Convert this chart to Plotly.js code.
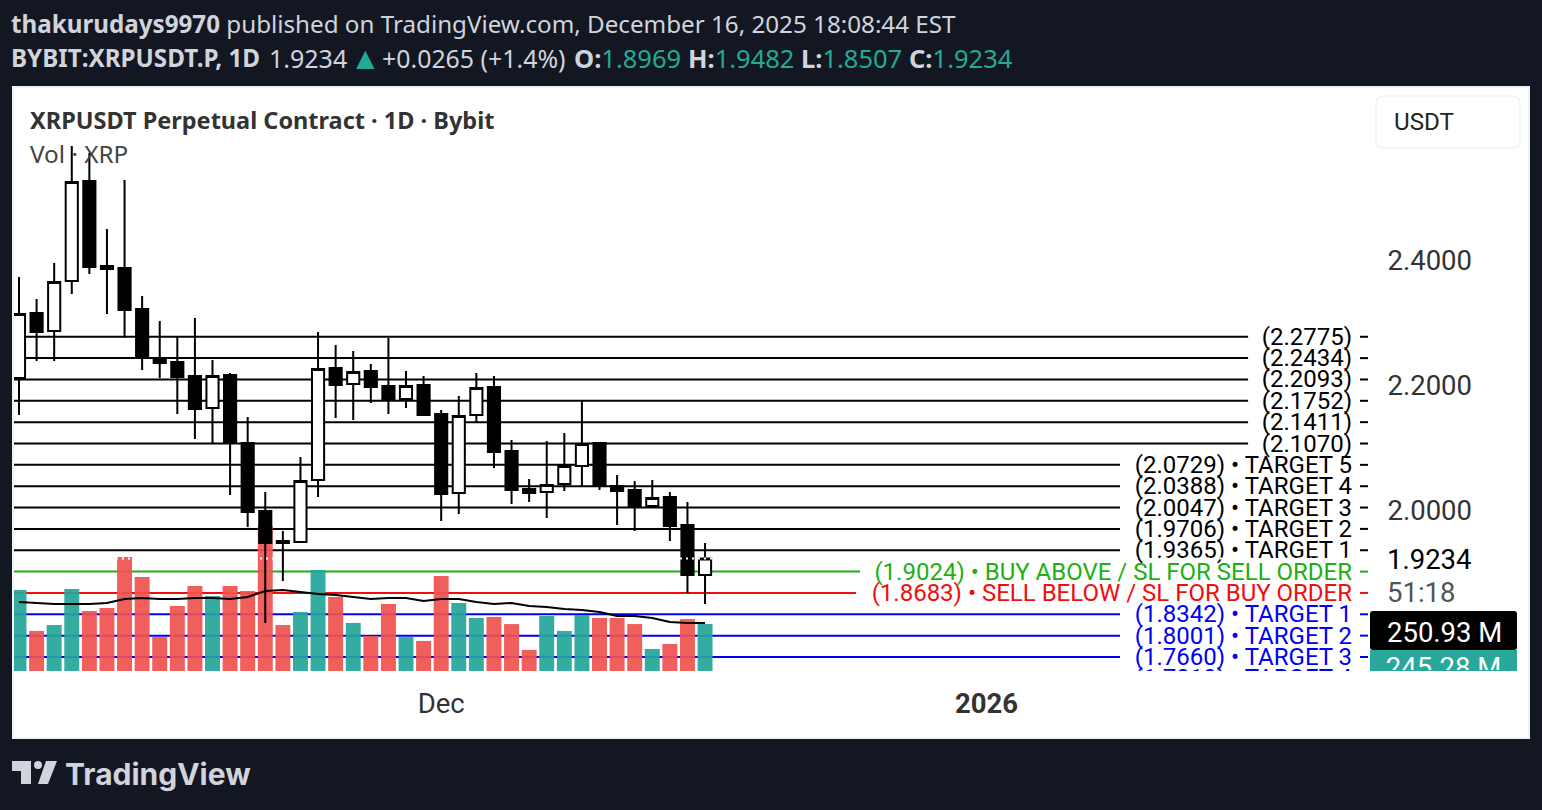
<!DOCTYPE html>
<html><head><meta charset="utf-8">
<script src="https://cdn.plot.ly/plotly-3.0.1.min.js"></script>
<style>html,body{margin:0;padding:0;background:#131722;overflow:hidden}#c{width:1542px;height:810px}</style>
</head><body><div id="c"></div>
<script>
const dates=["2025-11-07","2025-11-08","2025-11-09","2025-11-10","2025-11-11","2025-11-12","2025-11-13","2025-11-14","2025-11-15","2025-11-16","2025-11-17","2025-11-18","2025-11-19","2025-11-20","2025-11-21","2025-11-22","2025-11-23","2025-11-24","2025-11-25","2025-11-26","2025-11-27","2025-11-28","2025-11-29","2025-11-30","2025-12-01","2025-12-02","2025-12-03","2025-12-04","2025-12-05","2025-12-06","2025-12-07","2025-12-08","2025-12-09","2025-12-10","2025-12-11","2025-12-12","2025-12-13","2025-12-14","2025-12-15","2025-12-16"];
const openP=[2.2117,2.3155,2.2867,2.3666,2.5263,2.3906,2.3874,2.3219,2.2436,2.2372,2.2149,2.1637,2.2165,2.1078,1.9992,1.9513,1.9497,2.0487,2.2276,2.2021,2.2228,2.1989,2.1781,2.2005,2.1542,2.0280,2.1526,2.1973,2.0950,2.0343,2.0296,2.0423,2.0711,2.1078,2.0391,2.0327,2.0072,2.0216,1.9768,1.8969];
const highP=[2.3730,2.3378,2.3954,2.5823,2.5711,2.4497,2.5279,2.3426,2.3027,2.2787,2.3075,2.2404,2.2196,2.1494,2.0296,1.9673,2.0855,2.2851,2.2644,2.2548,2.2340,2.2756,2.2228,2.2149,2.1605,2.1829,2.2196,2.2149,2.1126,2.0503,2.1110,2.1238,2.1765,2.1078,2.0567,2.0471,2.0487,2.0296,2.0136,1.9482];
const lowP=[2.1526,2.2388,2.2388,2.3458,2.3778,2.3139,2.2756,2.2244,2.2117,2.1542,2.1142,2.1078,2.0248,1.9736,1.8203,1.8874,1.9497,2.0216,2.1478,2.1446,2.1717,2.1542,2.1637,2.1510,1.9832,1.9944,2.1414,2.0679,2.0104,2.0136,1.9880,2.0311,2.0391,2.0327,1.9768,1.9673,2.0072,1.9513,1.8682,1.8507];
const closeP=[2.3139,2.2851,2.3650,2.5247,2.3890,2.3858,2.3203,2.2436,2.2356,2.2133,2.1621,2.2149,2.1078,1.9976,1.9481,1.9481,2.0471,2.2260,2.2005,2.2212,2.1973,2.1765,2.1989,2.1526,2.0264,2.1510,2.1957,2.0934,2.0327,2.0280,2.0407,2.0711,2.1062,2.0391,2.0311,2.0056,2.0200,1.9752,1.8969,1.9234];
const volumeM=[423,209,240,428,313,329,595,491,177,339,444,392,444,418,757,240,308,527,386,251,183,350,177,157,496,355,277,282,245,110,287,209,292,277,277,245,115,141,271,245.28];
const volumeMA=[360,355,350,350,350,355,376,381,376,376,381,381,376,386,418,423,412,402,397,386,376,381,381,365,376,376,360,350,355,339,334,324,318,308,287,287,277,256,251,250.93];
const levels=[2.2775,2.2434,2.2093,2.1752,2.1411,2.1070,2.0729,2.0388,2.0047,1.9706,1.9365,1.9024,1.8683,1.8342,1.8001,1.7660,1.7319];
const levelNotes=["","","","","","","TARGET 5","TARGET 4","TARGET 3","TARGET 2","TARGET 1","BUY ABOVE / SL FOR SELL ORDER","SELL BELOW / SL FOR BUY ORDER","TARGET 1","TARGET 2","TARGET 3","TARGET 4"];
const priceTicks=[2.0,2.2,2.4];
const timeTicks=["2025-12-01","2026-01-01"];
const timeTickLabels=["Dec","<b>2026</b>"];

const levelColors=levels.map((_,i)=>i<11?"#000000":i===11?"#1FAF12":i===12?"#F20D0D":"#0000F5");
const levelEndDay=levels.map((_,i)=>i<6?69.87:i<11?62.59:i===11?47.81:i===12?47.58:62.59);
const t0=Date.UTC(2025,10,7), DAY=864e5;
const dayAt=d=>t0+d*DAY;
const startX=dayAt(-0.284), endX=dayAt(76.8), labelX=dayAt(75.78);
const priceRange=[1.7436,2.6717];
const LABEL_DROP=0.0032;
const L=14,R=1370,T=90,B=671;
const px=x=>(x-L)/(R-L), py=y=>(B-y)/(B-T);
const TEAL="#26A69A", RED="#EF5350", FONT="Roboto, sans-serif", UI="'Noto Sans', sans-serif";

const lineTraces=levels.map((v,i)=>({type:"scatter",mode:"lines",x:[startX,dayAt(levelEndDay[i])],y:[v,v],xaxis:"x",yaxis:"y",
  line:{color:levelColors[i],width:2},hoverinfo:"skip",showlegend:false}));
const labelTrace={type:"scatter",mode:"text",x:levels.map(()=>labelX),y:levels.map(v=>v-LABEL_DROP),
  text:levels.map((v,i)=>"("+v.toFixed(4)+")"+(levelNotes[i]?" • "+levelNotes[i]:"")),
  textposition:"middle left",textfont:{family:FONT,size:24,color:levelColors},xaxis:"x",yaxis:"y",hoverinfo:"skip",showlegend:false};
const volTrace={type:"bar",x:dates,y:volumeM,xaxis:"x",yaxis:"y2",
  marker:{color:closeP.map((c,i)=>c>=openP[i]?TEAL:RED),line:{width:0}},opacity:0.93,hoverinfo:"skip",showlegend:false};
const maTrace={type:"scatter",mode:"lines",x:dates,y:volumeMA,xaxis:"x",yaxis:"y2",line:{color:"#000",width:2},hoverinfo:"skip",showlegend:false};
const candle={type:"candlestick",x:dates,open:openP,high:highP,low:lowP,close:closeP,xaxis:"x",yaxis:"y3",whiskerwidth:0,
  increasing:{line:{color:"#000",width:2},fillcolor:"#fff"},decreasing:{line:{color:"#000",width:2},fillcolor:"#000"},hoverinfo:"skip",showlegend:false};
const lastLine={type:"scatter",mode:"lines",x:[startX,endX],y:[closeP[39],closeP[39]],xaxis:"x",yaxis:"y3",
  line:{color:"#fff",width:2,dash:"2px,4px"},hoverinfo:"skip",showlegend:false};

function rr(x0,y0,x1,y1,r){const X=px,Y=py;
  return `M${X(x0+r)},${Y(y0)}L${X(x1-r)},${Y(y0)}Q${X(x1)},${Y(y0)} ${X(x1)},${Y(y0+r)}L${X(x1)},${Y(y1-r)}Q${X(x1)},${Y(y1)} ${X(x1-r)},${Y(y1)}L${X(x0+r)},${Y(y1)}Q${X(x0)},${Y(y1)} ${X(x0)},${Y(y1-r)}L${X(x0)},${Y(y0+r)}Q${X(x0)},${Y(y0)} ${X(x0+r)},${Y(y0)}Z`;}
function poly(p){return "M"+p.map(a=>px(a[0])+","+py(a[1])).join("L")+"Z";}
const P={xref:"paper",yref:"paper"};
const shapes=[
 {...P,type:"rect",layer:"below",x0:px(13),x1:px(1529),y0:py(87),y1:py(738),fillcolor:"#fff",line:{color:"#F0F3FA",width:2}},
 {...P,type:"path",layer:"below",path:rr(1376,96,1520,148,8),fillcolor:"#fff",line:{color:"#F0F3FA",width:1.5}},
 ...levels.map((v,i)=>({xref:"paper",yref:"y",type:"line",x0:px(1360),x1:px(1368),y0:v,y1:v,line:{color:levelColors[i],width:2},layer:"below",visible:i<16})),
 {...P,type:"path",path:rr(1370,611,1517,650,3),fillcolor:"#000",line:{width:0}},
 {...P,type:"path",path:poly([[12,761],[31,761],[31,784],[21,784],[21,771],[12,771]]),fillcolor:"#D1D4DC",line:{width:0}},
 {...P,type:"circle",x0:px(34),x1:px(42),y0:py(761),y1:py(769),fillcolor:"#D1D4DC",line:{width:0}},
 {...P,type:"path",path:poly([[46,761],[57,761],[48,784],[38,784]]),fillcolor:"#D1D4DC",line:{width:0}}
];
function ann(x,y,text,font,extra){return Object.assign({xref:"paper",yref:"paper",x:px(x),y:py(y),text,showarrow:false,xanchor:"left",yanchor:"middle",borderpad:0,font},extra||{});}
const G="#22AB94";
const gs=s=>`<span style="color:${G}">${s}</span>`;
const HDR={family:UI,size:24.2,color:"#D1D4DC"}, HDR2={family:UI,size:25.5,color:"#D1D4DC"};
const annotations=[
 ann(10,24,"<b>thakurudays9970</b> published on TradingView.com, December 16, 2025 18:08:44 EST",HDR),
 ann(10,58,"<b>BYBIT:XRPUSDT.P, 1D</b>",HDR),
 ann(268,58,"1.9234",{family:UI,size:25,color:"#D1D4DC"}),
 ann(349,57,"▲",{family:UI,size:31,color:G}),
 ann(381,58,"+0.0265 (+1.4%)",{family:UI,size:24.9,color:"#D1D4DC"}),
 ann(573,58,`<b>O:</b>${gs("1.8969")}`,HDR2),
 ann(687,58,`<b>H:</b>${gs("1.9482")}`,HDR2),
 ann(800,58,`<b>L:</b>${gs("1.8507")}`,HDR2),
 ann(908,58,`<b>C:</b>${gs("1.9234")}`,HDR2),
 ann(29,120,"<b>XRPUSDT Perpetual Contract · 1D · Bybit</b>",{family:UI,size:23.5,color:"#333"}),
 ann(29,153.5,"Vol · XRP",{family:UI,size:24.3,color:"#444"}),
 ann(1393,121.5,"USDT",{family:FONT,size:24.2,color:"#222"}),
 ann(1386,559,"1.9234",{family:FONT,size:27.5,color:"#000"}),
 ann(1386,592,"51:18",{family:FONT,size:27.5,color:"#555"}),
 ann(1386,632,"250.93 M",{family:FONT,size:27.5,color:"#fff"}),
 {xref:"paper",yref:"paper",x:px(1370),y:py(650),xanchor:"left",yanchor:"top",width:145,height:19,valign:"top",align:"center",bgcolor:"#2AA79B",borderpad:1,borderwidth:0,showarrow:false,text:"245.28 M",font:{family:FONT,size:27.5,color:"#fff"}},
 ann(64,774,"<b>TradingView</b>",{family:"Inter, sans-serif",size:30,color:"#D1D4DC"})
];
const hiddenAxis={showgrid:false,zeroline:false,showticklabels:false,ticks:"",showline:false,fixedrange:true};
const layout={width:1542,height:810,margin:{l:L,r:1542-R,t:T,b:810-B,pad:0},paper_bgcolor:"#131722",plot_bgcolor:"rgba(0,0,0,0)",
 showlegend:false,boxgap:0.31,boxgroupgap:0,bargap:0.15,shapes,annotations,
 xaxis:{type:"date",range:[startX,endX],rangeslider:{visible:false},showgrid:false,zeroline:false,showline:false,tickmode:"array",tickvals:timeTicks,ticktext:timeTickLabels,
  ticks:"outside",ticklen:8,tickcolor:"rgba(0,0,0,0)",tickfont:{family:FONT,size:27.5,color:"#333"},fixedrange:true},
 yaxis:{range:priceRange,side:"right",showgrid:false,zeroline:false,showline:false,tickmode:"array",tickvals:priceTicks,tickformat:".4f",
  ticks:"outside",ticklen:11,tickcolor:"rgba(0,0,0,0)",tickfont:{family:FONT,size:27.5,color:"#333"},fixedrange:true},
 yaxis2:{...hiddenAxis,overlaying:"y",side:"right",range:[0,3033]},
 yaxis3:{...hiddenAxis,overlaying:"y",side:"right",range:priceRange}
};
Plotly.newPlot("c",[...lineTraces,labelTrace,volTrace,maTrace,candle,lastLine],layout,{displayModeBar:false,staticPlot:true});
</script></body></html>
